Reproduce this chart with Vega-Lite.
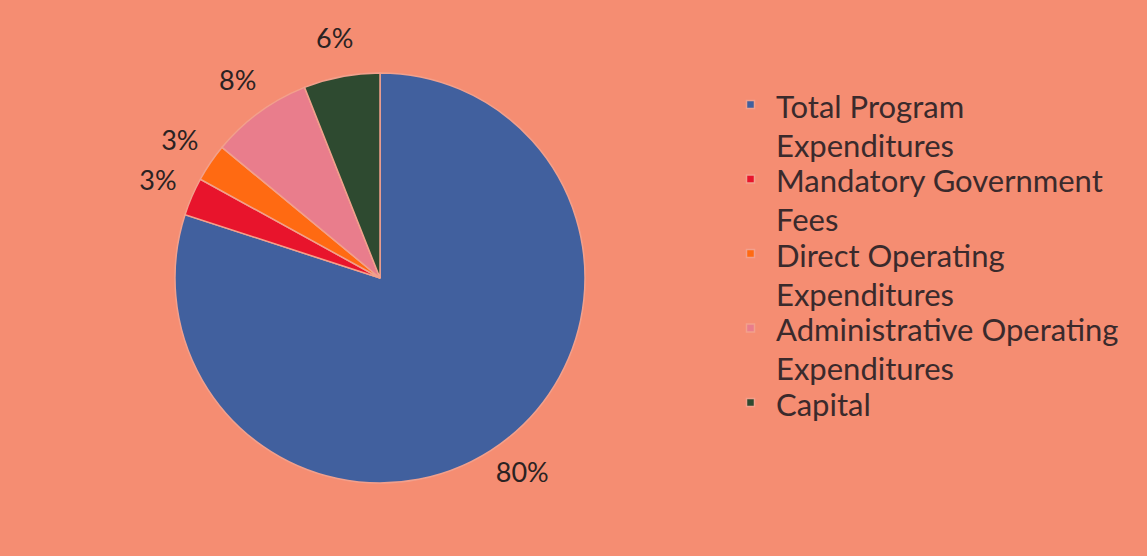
{
  "$schema": "https://vega.github.io/schema/vega-lite/v6.json",
  "width": 760,
  "height": 556,
  "padding": {"left": 0, "top": 0, "right": 387, "bottom": 0},
  "autosize": "none",
  "background": "#F58D72",
  "config": {"view": {"stroke": null}, "font": "Lato", "style": {"guide-label": {"lineHeight": 39, "dy": -11}}},
  "data": {"values": [
    {"category": "Total Program Expenditures", "value": 80, "order": 1, "label": "80%"},
    {"category": "Mandatory Government Fees", "value": 3, "order": 2, "label": "3%"},
    {"category": "Direct Operating Expenditures", "value": 3, "order": 3, "label": "3%"},
    {"category": "Administrative Operating Expenditures", "value": 8, "order": 4, "label": "8%"},
    {"category": "Capital", "value": 6, "order": 5, "label": "6%"}
  ]},
  "encoding": {
    "theta": {"field": "value", "type": "quantitative", "stack": true},
    "order": {"field": "order", "type": "quantitative"},
    "color": {
      "field": "category", "type": "nominal",
      "sort": ["Total Program Expenditures", "Mandatory Government Fees", "Direct Operating Expenditures", "Administrative Operating Expenditures", "Capital"],
      "scale": {
        "domain": ["Total Program Expenditures", "Mandatory Government Fees", "Direct Operating Expenditures", "Administrative Operating Expenditures", "Capital"],
        "range": ["#41609E", "#E8142C", "#FF6A12", "#E97D8C", "#2E4A30"]
      },
      "legend": {
        "title": null,
        "orient": "none",
        "legendX": 735,
        "legendY": 89,
        "symbolType": "square",
        "symbolSize": 64,
        "labelFontSize": 31,
        "labelFont": "Lato",
        "labelColor": "#3A2A2C",
        "labelLimit": 420,
        "labelOffset": 10,
        "labelBaseline": "top",
        "rowPadding": 0.5,
        "labelExpr": "datum.label == 'Total Program Expenditures' ? ['Total Program', 'Expenditures'] : datum.label == 'Mandatory Government Fees' ? ['Mandatory Government', 'Fees'] : datum.label == 'Direct Operating Expenditures' ? ['Direct Operating', 'Expenditures'] : datum.label == 'Administrative Operating Expenditures' ? ['Administrative Operating', 'Expenditures'] : datum.label"
      }
    }
  },
  "layer": [
    {"mark": {"type": "arc", "outerRadius": 205, "stroke": "#F2A08C", "strokeWidth": 1.5}},
    {"mark": {"type": "text", "radius": 242, "fontSize": 27, "font": "Lato", "fill": "#2A2222"},
     "encoding": {"text": {"field": "label"}, "color": {"value": "#2A2222"}}}
  ]
}
